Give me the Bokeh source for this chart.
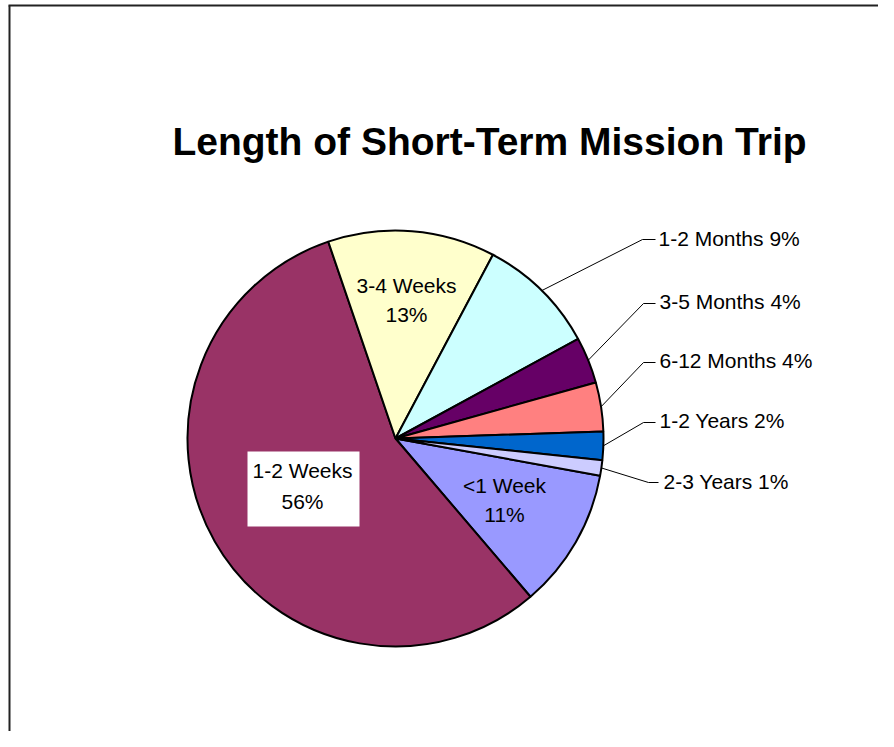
import math
from bokeh.plotting import figure
from bokeh.models import Range1d, ColumnDataSource
from bokeh.core.properties import value
from bokeh.embed import file_html
from bokeh.resources import INLINE

# ---- data ----
categories = ["<1 Week", "1-2 Weeks", "3-4 Weeks", "1-2 Months",
              "3-5 Months", "6-12 Months", "1-2 Years", "2-3 Years"]
percents = [10.9, 56.0, 13.0, 9.3, 3.6, 3.8, 2.2, 1.2]
colors = ["#9999FF", "#993366", "#FFFFCC", "#CCFFFF",
          "#660066", "#FF8080", "#0066CC", "#CCCCFF"]
title_text = "Length of Short-Term Mission Trip"

# ---- layout (picture pixel coordinates -> data coordinates) ----
W, H = 878, 731
def px(X):
    return X
def py(Y):
    return H - Y

LBL_SHIFT = 7     # svg text baseline correction (px) for 21px labels
TTL_SHIFT = 12    # same for 39px title

cx, cy, R = px(395), py(438), 208
first_slice_angle = 100.3  # degrees clockwise from 12 o'clock

p = figure(width=W, height=H, output_backend="svg", toolbar_location=None,
           x_range=Range1d(0, W), y_range=Range1d(0, H), min_border=0)
p.axis.visible = False
p.grid.visible = False
p.outline_line_color = None
p.background_fill_color = "white"

# frame (left and top edges visible)
p.segment(x0=[px(9), px(8)], y0=[0, py(5)], x1=[px(9), W], y1=[py(5), py(5)],
          line_color="#222222", line_width=2)

# wedges
total = sum(percents)
starts, ends, mids = [], [], []
theta = first_slice_angle
for v in percents:
    span = v / total * 360.0
    t1, t2 = theta, theta + span
    starts.append(math.radians(90 - t2))
    ends.append(math.radians(90 - t1))
    mids.append((t1 + t2) / 2.0)
    theta = t2

src = ColumnDataSource(dict(start=starts, end=ends, color=colors))
p.wedge(x=cx, y=cy, radius=R, start_angle="start", end_angle="end",
        fill_color="color", line_color="black", line_width=2, source=src)

font = value("Liberation Sans")
FS = "21px"

pct_labels = ["%d%%" % round(v) for v in percents]
inside = {  # category index -> (center X, baseline1 Y, baseline2 Y)
    0: (504, 492, 521),
    1: (302, 477, 508),
    2: (406, 292, 321),
}
p.quad(left=px(247), right=px(359), top=py(451), bottom=py(526),
       fill_color="white", line_color=None)
for i, (X, y1, y2) in inside.items():
    p.text(x=[px(X), px(X)], y=[py(y1 - LBL_SHIFT), py(y2 - LBL_SHIFT)],
           text=[categories[i], pct_labels[i]],
           text_font=font, text_font_size=FS, text_color="black",
           text_align="center", text_baseline="alphabetic")

outside = {  # index -> (elbow X, elbow Y, end X, text X, text baseline Y)
    3: (642, 239, 655, 658, 245),
    4: (643, 303, 655, 659, 308),
    5: (643, 362, 655, 659, 367),
    6: (643, 422, 655, 659, 427),
    7: (648, 482, 658, 663, 488),
}
for i, (ex, ey, endx, tx, ty) in outside.items():
    a = math.radians(mids[i])
    sx = cx + R * math.sin(a)
    sy = cy + R * math.cos(a)
    p.line(x=[sx, px(ex), px(endx)], y=[sy, py(ey), py(ey)],
           line_color="black", line_width=1)
    p.text(x=[px(tx)], y=[py(ty - LBL_SHIFT)],
           text=["%s %s" % (categories[i], pct_labels[i])],
           text_font=font, text_font_size=FS, text_color="black",
           text_align="left", text_baseline="alphabetic")

p.text(x=[px(489)], y=[py(153 - TTL_SHIFT)], text=[title_text],
       text_font=font, text_font_size="39px", text_font_style="bold",
       text_color="black", text_align="center", text_baseline="alphabetic")

open("out.html", "w").write(file_html(p, INLINE))
